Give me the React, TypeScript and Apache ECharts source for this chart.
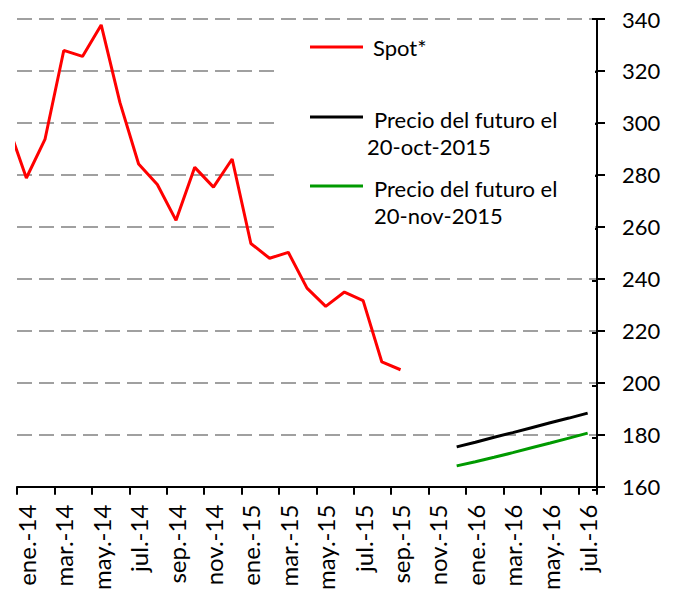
import React, { useEffect, useRef } from "react";
import * as echarts from "echarts";

const months = [
  "ene.-14", "feb.-14", "mar.-14", "abr.-14", "may.-14", "jun.-14", "jul.-14", "ago.-14", "sep.-14", "oct.-14", "nov.-14", "dic.-14",
  "ene.-15", "feb.-15", "mar.-15", "abr.-15", "may.-15", "jun.-15", "jul.-15", "ago.-15", "sep.-15", "oct.-15", "nov.-15", "dic.-15",
  "ene.-16", "feb.-16", "mar.-16", "abr.-16", "may.-16", "jun.-16", "jul.-16",
];

// Spot series starts one month before the first category (dic.-13), clipped by the plot area
const spotStart = -1;
const spot = [
  299.5, 278.8, 293.8, 327.9, 325.6, 337.7, 307.9, 284.2, 276.3, 262.5, 282.9, 275.3, 286.1,
  253.6, 247.9, 250.2, 236.4, 229.4, 234.9, 231.6, 208.0, 205.0,
];

const futStart = 23; // dic.-15
const futOct = [175.3, 177.1, 179.0, 180.8, 182.7, 184.6, 186.4, 188.3];
const futNov = [168.0, 169.6, 171.3, 173.1, 175.0, 176.8, 178.7, 180.6];

const yMin = 160;
const yMax = 340;
const yStep = 20;

const legendNames = ["Spot*", "Precio del futuro el", "20-oct-2015", "20-nov-2015"];

const FONT = "Lato";

function toPoints(start: number, values: number[]) {
  return values.map((v, i) => [start + i + 0.5, v]);
}

export default function App() {
  const ref = useRef<HTMLDivElement>(null);
  useEffect(() => {
    if (!ref.current) return;
    const chart = echarts.init(ref.current, undefined, { renderer: "svg" });
    const textStyle = { fontFamily: FONT, fontSize: 22, fill: "#000", align: "left", verticalAlign: "middle" };
    const gridBox = { left: 17, right: 83, top: 19, bottom: 103, containLabel: false };
    chart.setOption({
      animation: false,
      textStyle: { fontFamily: FONT },
      grid: [gridBox, { ...gridBox }],
      xAxis: [
        { type: "value", gridIndex: 0, min: 0, max: months.length, show: false },
        {
          type: "category",
          gridIndex: 0,
          data: months,
          boundaryGap: true,
          position: "bottom",
          axisLine: { show: true, onZero: false, lineStyle: { color: "#000", width: 2 } },
          axisTick: { show: true, interval: 1, length: 8, lineStyle: { color: "#000", width: 2 } },
          axisLabel: { interval: 1, rotate: 90, margin: 18, fontSize: 24, fontFamily: FONT, color: "#000" },
          splitLine: { show: false },
        },
        { type: "value", gridIndex: 1, min: 0, max: months.length, show: false },
      ],
      yAxis: [
        {
          type: "value",
          gridIndex: 0,
          position: "right",
          min: yMin,
          max: yMax,
          interval: yStep,
          axisLine: { show: true, onZero: false, lineStyle: { color: "#000", width: 2 } },
          axisTick: { show: true, length: 8, lineStyle: { color: "#000", width: 2 } },
          axisLabel: { margin: 25, fontSize: 22, fontFamily: FONT, color: "#000" },
          splitLine: { show: true, lineStyle: { color: "#a0a0a0", width: 2, type: [15, 7] } },
        },
        {
          type: "value",
          gridIndex: 1,
          position: "right",
          min: yMin,
          max: yMax,
          interval: yStep,
          axisLine: { show: false, onZero: false },
          axisTick: { show: true, inside: true, length: 5, lineStyle: { color: "#000", width: 2 } },
          axisLabel: { show: false },
          splitLine: { show: false },
        },
      ],
      series: [
        {
          name: legendNames[0],
          type: "line",
          xAxisIndex: 0,
          yAxisIndex: 0,
          data: toPoints(spotStart, spot),
          symbol: "none",
          clip: true,
          lineStyle: { color: "#ff0000", width: 3 },
        },
        {
          name: "oct",
          type: "line",
          xAxisIndex: 0,
          yAxisIndex: 0,
          data: toPoints(futStart, futOct),
          symbol: "none",
          lineStyle: { color: "#000000", width: 3 },
        },
        {
          name: "nov",
          type: "line",
          xAxisIndex: 0,
          yAxisIndex: 0,
          data: toPoints(futStart, futNov),
          symbol: "none",
          lineStyle: { color: "#009a00", width: 3 },
        },
      ],
      graphic: [
        { type: "rect", z: 50, shape: { x: 278, y: 28, width: 317, height: 212 }, style: { fill: "#fff" } },
        { type: "line", z: 51, shape: { x1: 310, y1: 47, x2: 363, y2: 47 }, style: { stroke: "#ff0000", lineWidth: 3 } },
        { type: "line", z: 51, shape: { x1: 310, y1: 117, x2: 363, y2: 117 }, style: { stroke: "#000000", lineWidth: 3 } },
        { type: "line", z: 51, shape: { x1: 310, y1: 186, x2: 363, y2: 186 }, style: { stroke: "#009a00", lineWidth: 3 } },
        { type: "text", z: 51, x: 373, y: 47, style: { ...textStyle, text: legendNames[0] } },
        { type: "text", z: 51, x: 374, y: 119, style: { ...textStyle, text: legendNames[1] } },
        { type: "text", z: 51, x: 367, y: 146, style: { ...textStyle, text: legendNames[2] } },
        { type: "text", z: 51, x: 374, y: 188, style: { ...textStyle, text: legendNames[1] } },
        { type: "text", z: 51, x: 374, y: 215, style: { ...textStyle, text: legendNames[3] } },
      ],
    });
    return () => chart.dispose();
  }, []);
  return <div ref={ref} style={{ position: "absolute", left: 0, top: 0, width: 680, height: 593 }} />;
}
